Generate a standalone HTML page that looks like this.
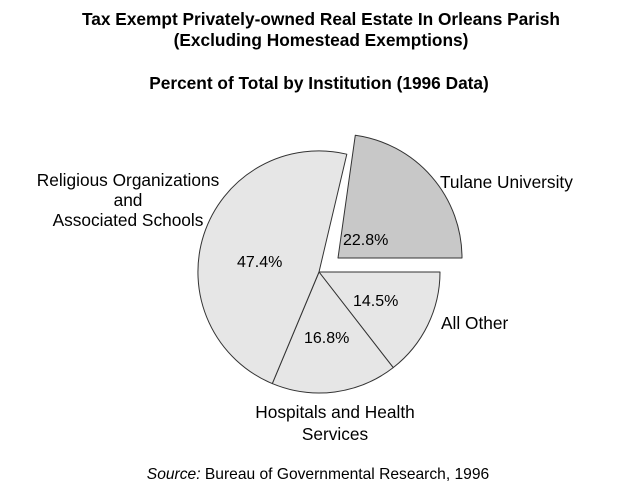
<!DOCTYPE html>
<html><head><style>
body{margin:0;background:#fff;}
svg{display:block;font-family:"Liberation Sans",Arial,sans-serif;}
</style></head><body>
<svg width="640" height="493" viewBox="0 0 640 493">
<rect width="640" height="493" fill="#fff"/>
<g font-weight="bold" font-size="17.3" text-anchor="middle" fill="#000">
<text x="321" y="25">Tax Exempt Privately-owned Real Estate In Orleans Parish</text>
<text x="321" y="46">(Excluding Homestead Exemptions)</text>
<text x="319" y="89">Percent of Total by Institution (1996 Data)</text>
</g>
<g stroke="#333" stroke-width="1" stroke-linejoin="round">
<path d="M319,272 L440,272 A121,121 0 0 1 393.2,367.6 Z" fill="#e6e6e6"/>
<path d="M319,272 L393.2,367.6 A121,121 0 0 1 272.3,383.6 Z" fill="#e6e6e6"/>
<path d="M319,272 L272.3,383.6 A121,121 0 0 1 346.8,154.2 Z" fill="#e6e6e6"/>
<path d="M338,258 L355.3,135.2 A124,124 0 0 1 462,258 Z" fill="#c8c8c8"/>
</g>
<g font-size="16" fill="#000">
<text x="343" y="245">22.8%</text>
<text x="237" y="267">47.4%</text>
<text x="353" y="306">14.5%</text>
<text x="304" y="343">16.8%</text>
</g>
<g font-size="17.3" fill="#000">
<text x="440" y="188">Tulane University</text>
<text x="441" y="329">All Other</text>
<g text-anchor="middle">
<text x="128" y="186">Religious Organizations</text>
<text x="128" y="206">and</text>
<text x="128" y="226">Associated Schools</text>
<text x="335" y="418">Hospitals and Health</text>
<text x="335" y="440">Services</text>
</g>
</g>
<text x="318" y="479" text-anchor="middle" font-size="15.6" fill="#000"><tspan font-style="italic">Source:</tspan> Bureau of Governmental Research, 1996</text>
</svg>
</body></html>
